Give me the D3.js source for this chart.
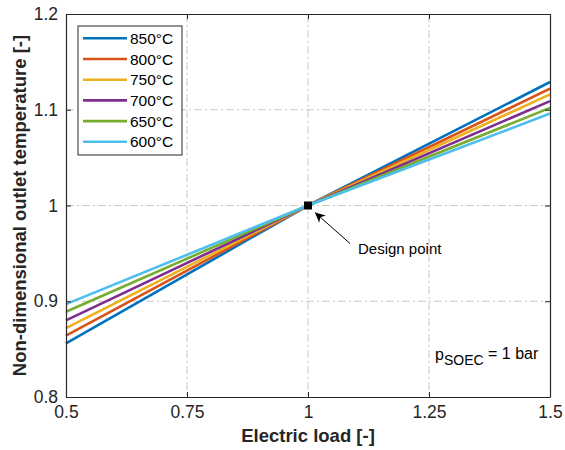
<!DOCTYPE html>
<html>
<head>
<meta charset="utf-8">
<script src="https://cdn.jsdelivr.net/npm/d3@7"></script>
<style>
body { margin: 0; background: #fff; }
text { font-family: Arial, "Liberation Sans", sans-serif; }
</style>
</head>
<body>
<svg width="565" height="450"></svg>
<script>
// data
const loads = [0.5, 1, 1.5];
const series = ['850°C', '800°C', '750°C', '700°C', '650°C', '600°C'];
const colors = ['#0072BD', '#D95319', '#EDB120', '#7E2F8E', '#77AC30', '#4DBEEE'];
const temps = [
  [0.856, 1, 1.129],
  [0.864, 1, 1.122],
  [0.872, 1, 1.116],
  [0.880, 1, 1.109],
  [0.889, 1, 1.102],
  [0.897, 1, 1.096]
];
const xTicks = [0.5, 0.75, 1, 1.25, 1.5];
const yTicks = [0.8, 0.9, 1, 1.1, 1.2];

const svg = d3.select('svg');
const margin = { top: 14, right: 15, bottom: 53, left: 66 };
const W = 565 - margin.left - margin.right;
const H = 450 - margin.top - margin.bottom;

const x = d3.scaleLinear().domain([0.5, 1.5]).range([0, W]);
const y = d3.scaleLinear().domain([0.8, 1.2]).range([H, 0]);

const g = svg.append('g').attr('transform', `translate(${margin.left},${margin.top})`);

// grid
g.selectAll('.gx').data(xTicks.slice(1, -1)).join('line')
  .attr('x1', d => x(d)).attr('x2', d => x(d)).attr('y1', 0).attr('y2', H)
  .attr('stroke', '#c8c8c8').attr('stroke-dasharray', '8,3,2,3');
g.selectAll('.gy').data(yTicks.slice(1, -1)).join('line')
  .attr('y1', d => y(d)).attr('y2', d => y(d)).attr('x1', 0).attr('x2', W)
  .attr('stroke', '#c8c8c8').attr('stroke-dasharray', '8,3,2,3');

// lines
const line = d3.line().x((d, i) => x(loads[i])).y(d => y(d));
g.selectAll('.series').data(temps).join('path')
  .attr('d', line).attr('fill', 'none')
  .attr('stroke', (d, i) => colors[i]).attr('stroke-width', 2.6);

// axes (MATLAB style, inward ticks)
const fmt = d => String(d);
g.append('g').attr('transform', `translate(0,${H})`)
  .call(d3.axisBottom(x).tickValues(xTicks).tickFormat(fmt).tickSizeInner(-5).tickSizeOuter(0).tickPadding(9));
g.append('g')
  .call(d3.axisTop(x).tickValues(xTicks).tickFormat('').tickSizeInner(-5).tickSizeOuter(0));
g.append('g')
  .call(d3.axisLeft(y).tickValues(yTicks).tickFormat(fmt).tickSizeInner(-5).tickSizeOuter(0).tickPadding(8));
g.append('g').attr('transform', `translate(${W},0)`)
  .call(d3.axisRight(y).tickValues(yTicks).tickFormat('').tickSizeInner(-5).tickSizeOuter(0));
g.selectAll('.domain').attr('stroke', '#262626').attr('stroke-width', 1.2);
g.selectAll('.tick line').attr('stroke', '#262626');
g.selectAll('.tick text').attr('font-size', 17.5).attr('fill', '#262626');

// axis titles
svg.append('text').attr('x', margin.left + W / 2).attr('y', 442)
  .attr('text-anchor', 'middle').attr('font-size', 18.5).attr('font-weight', 'bold')
  .attr('fill', '#262626').text('Electric load [-]');
svg.append('text').attr('transform', `translate(26,${margin.top + H / 2}) rotate(-90)`)
  .attr('text-anchor', 'middle').attr('font-size', 18.5).attr('font-weight', 'bold')
  .attr('fill', '#262626').text('Non-dimensional outlet temperature [-]');

// design point
g.append('rect').attr('x', x(1) - 4).attr('y', y(1) - 4).attr('width', 8).attr('height', 8).attr('fill', '#000');
svg.append('defs').append('marker').attr('id', 'ah')
  .attr('viewBox', '0 0 10 10').attr('refX', 10).attr('refY', 5)
  .attr('markerWidth', 11).attr('markerHeight', 10).attr('markerUnits', 'userSpaceOnUse')
  .attr('orient', 'auto')
  .append('path').attr('d', 'M0,0 L10,5 L0,10 L3,5 z').attr('fill', '#000');
g.append('line').attr('x1', x(1) + 42).attr('y1', y(1) + 38)
  .attr('x2', x(1) + 7).attr('y2', y(1) + 7)
  .attr('stroke', '#000').attr('stroke-width', 1).attr('marker-end', 'url(#ah)');
g.append('text').attr('x', x(1) + 50).attr('y', y(1) + 48)
  .attr('font-size', 15).attr('fill', '#000').text('Design point');

// pressure note
const note = g.append('text').attr('x', 369).attr('y', 346).attr('font-size', 16).attr('fill', '#000');
note.append('tspan').text('p');
note.append('tspan').attr('baseline-shift', '-5').attr('font-size', 14).text('SOEC');
note.append('tspan').attr('dy', -1).text(' = 1 bar');

// legend
const lg = g.append('g').attr('transform', 'translate(12,12)');
lg.append('rect').attr('width', 104).attr('height', 129)
  .attr('fill', '#fff').attr('stroke', '#262626').attr('stroke-width', 1);
series.forEach((s, i) => {
  const yy = 12.3 + i * 20.7;
  lg.append('line').attr('x1', 5).attr('x2', 49).attr('y1', yy).attr('y2', yy)
    .attr('stroke', colors[i]).attr('stroke-width', 2.6);
  lg.append('text').attr('x', 52).attr('y', yy + 5.5).attr('font-size', 15.5)
    .attr('fill', '#000').text(s);
});
</script>
</body>
</html>
